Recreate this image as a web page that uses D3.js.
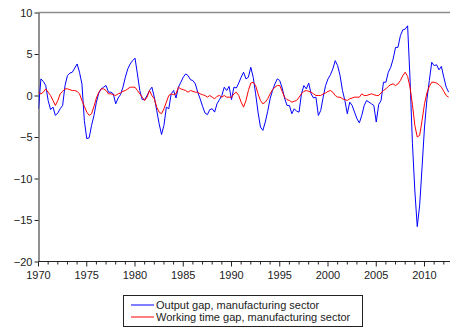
<!DOCTYPE html>
<html>
<head>
<meta charset="utf-8">
<script src="https://cdn.jsdelivr.net/npm/d3@7"></script>
<style>
  html, body { margin: 0; padding: 0; background: #fff; }
  svg { display: block; font-family: "Liberation Sans", Arial, sans-serif; }
</style>
</head>
<body>
<svg id="chart" width="450" height="329"></svg>
<script>
// Quarterly series, first observation 1970Q1
const startYear = 1970;
const periodsPerYear = 4;

const outputGap = [
  -1.6, 2.0, 1.7, 1.2,   -0.6, -1.7, -1.4, -2.4,   -2.1, -1.6, -1.2, 1.2,   2.4, 2.7, 2.8, 3.3,
  3.8, 2.8, 1.4, -3.0,   -5.2, -5.1, -3.6, -2.4,   -0.8, 0.3, 0.8, 1.0,     1.2, 0.4, 0.4, 0.2,
  -1.0, -0.3, 0.1, 1.0,  2.2, 3.2, 3.8, 4.2,       4.5, 2.6, 0.6, -0.5,     -0.5, 0.0, 0.6, 1.0,
  -0.2, -1.8, -3.4, -4.7, -3.6, -1.4, -1.6, 0.2,   0.6, -0.3, 1.0, 1.6,     2.2, 2.6, 2.4, 1.9,
  1.8, 1.4, 0.4, -0.4,   -1.3, -2.1, -2.3, -1.7,   -1.6, -2.0, -1.0, -0.5,  0.0, 1.0, 0.6, 1.1,
  -0.5, 1.0, 0.9, 1.5,   2.2, 2.8, 2.0, 2.2,       3.4, 2.2, 0.2, -2.0,     -3.8, -4.2, -3.2, -1.9,
  -0.4, 0.6, 1.4, 2.0,   1.8, 0.9, -0.3, -1.2,     -1.2, -2.2, -1.6, -1.9,  -2.0, 0.2, 1.2, 0.8,
  1.5, 0.2, -0.3, -0.2,  -2.4, -1.8, -0.2, 1.2,    2.0, 2.5, 3.2, 4.2,      3.6, 2.4, 0.6, -0.6,
  -2.2, -0.8, -1.2, -2.0, -2.8, -3.3, -2.4, -1.2,  -0.6, -0.8, -1.0, -1.2,  -3.2, -1.1, -0.6, 1.6,
  1.6, 2.8, 3.4, 4.4,    5.8, 5.8, 7.2, 7.9,       8.0, 8.4, 2.0, -5.8,     -11.5, -15.8, -13.2, -8.6,
  -3.8, -0.5, 1.8, 4.0,  3.6, 3.7, 3.1, 3.5,       2.2, 1.0, 0.4
];

const workingTimeGap = [
  0.4, 0.2, 0.4, 0.8,    0.4, 0.0, -0.6, -1.2,     -0.6, 0.2, 0.5, 0.8,     0.8, 0.7, 0.6, 0.6,
  0.5, 0.2, -0.6, -1.3,  -2.0, -2.4, -2.2, -1.3,   -0.3, 0.4, 0.8, 0.8,     0.6, 0.2, 0.2, 0.1,
  0.0, 0.2, 0.3, 0.5,    0.6, 0.8, 1.0, 1.0,       1.0, 0.6, 0.2, -0.2,     -0.6, -0.2, 0.6, 0.0,
  -0.4, -1.4, -2.0, -2.2, -1.6, -0.8, 0.0, 0.2,    0.1, 0.2, 1.0, 0.8,      0.7, 0.6, 0.4, 0.6,
  0.5, 0.4, 0.4, 0.2,    0.1, 0.0, -0.2, 0.0,      -0.2, -0.4, -0.1, 0.0,   -0.2, 0.0, -0.2, -0.2,
  -0.2, 0.2, 0.4, 0.0,   -0.8, -1.4, -0.6, 0.6,    1.5, 1.6, 1.2, 0.2,      -0.6, -1.0, -0.8, -0.4,
  0.2, 0.7, 1.0, 1.2,    1.2, 0.5, -0.2, -0.5,     -0.6, -0.8, -0.7, -0.6,  -0.2, 0.2, 0.5, 0.6,
  0.5, 0.4, 0.2, 0.0,    0.0, 0.0, 0.2, 0.3,       0.5, 0.6, 0.4, 0.0,      -0.2, -0.2, -0.4, -0.5,
  -0.6, -0.4, -0.3, -0.2, -0.2, -0.2, 0.2, 0.0,    0.0, 0.1, 0.2, 0.1,      0.0, 0.0, 0.3, 0.6,
  0.8, 1.1, 1.3, 1.4,    1.2, 1.4, 1.8, 2.4,       2.8, 2.3, 1.0, -1.1,     -3.6, -5.0, -4.8, -3.0,
  -1.0, 0.3, 1.1, 1.6,   1.6, 1.5, 1.3, 1.0,       0.5, 0.0, -0.2
];

const yTicks = [-20, -15, -10, -5, 0, 5, 10];
const xLabelYears = [1970, 1975, 1980, 1985, 1990, 1995, 2000, 2005, 2010];
const seriesNames = ["Output gap, manufacturing sector", "Working time gap, manufacturing sector"];
const seriesColors = ["#0000ff", "#ff0000"];

const svg = d3.select("#chart");
const plotLeft = 38.5, plotTop = 12.5, plotBottom = 261.5, plotRight = 450;

const x = d3.scaleLinear().domain([1970, 2010]).range([plotLeft, 424.5]);
const y = d3.scaleLinear().domain([-20, 10]).range([plotBottom, plotTop]);

const toPoints = arr => arr.map((v, i) => ({ t: startYear + i / periodsPerYear, v }));

// plot clip
svg.append("defs").append("clipPath").attr("id", "plot")
  .append("rect").attr("x", plotLeft).attr("y", plotTop)
  .attr("width", plotRight - plotLeft).attr("height", plotBottom - plotTop);

// top frame line
svg.append("line")
  .attr("x1", plotLeft).attr("x2", plotRight).attr("y1", plotTop).attr("y2", plotTop)
  .attr("stroke", "#8c8c8c").attr("stroke-width", 1.3);

// y axis
const yAxis = svg.append("g").attr("transform", `translate(${plotLeft},0)`)
  .call(d3.axisLeft(y).tickValues(yTicks).tickSize(4).tickPadding(2).tickSizeOuter(0));
yAxis.select(".domain").attr("stroke", "#222");
yAxis.selectAll(".tick line").attr("stroke", "#222");
yAxis.selectAll(".tick text").attr("fill", "#222").style("font-size", "11px")
  .style("font-family", "'Liberation Sans', Arial, sans-serif");

// x axis line
svg.append("line")
  .attr("x1", plotLeft).attr("x2", plotRight).attr("y1", plotBottom).attr("y2", plotBottom)
  .attr("stroke", "#222");

// yearly ticks, longer at labelled years
const years = d3.range(1970, 2013);
svg.append("g").selectAll("line").data(years).join("line")
  .attr("x1", d => x(d)).attr("x2", d => x(d))
  .attr("y1", plotBottom).attr("y2", d => plotBottom + (d % 5 === 0 ? 5 : 3))
  .attr("stroke", "#222");

svg.append("g").selectAll("text").data(xLabelYears).join("text")
  .attr("x", d => x(d)).attr("y", 279)
  .attr("text-anchor", "middle")
  .attr("fill", "#222")
  .style("font-size", "11px")
  .text(d => d);

// series lines
const line = d3.line().x(d => x(d.t)).y(d => y(d.v));
const plot = svg.append("g").attr("clip-path", "url(#plot)");
[outputGap, workingTimeGap].forEach((s, i) => {
  plot.append("path")
    .datum(toPoints(s))
    .attr("d", line)
    .attr("fill", "none")
    .attr("stroke", seriesColors[i])
    .attr("stroke-width", 1)
    .attr("stroke-linejoin", "round");
});

// legend
const legend = svg.append("g");
legend.append("rect")
  .attr("x", 123.5).attr("y", 295.5).attr("width", 239).attr("height", 31)
  .attr("fill", "#fff").attr("stroke", "#222");
seriesNames.forEach((name, i) => {
  const ly = 305 + i * 12;
  legend.append("line")
    .attr("x1", 131).attr("x2", 154).attr("y1", ly).attr("y2", ly)
    .attr("stroke", seriesColors[i]);
  legend.append("text")
    .attr("x", 156).attr("y", ly + 4)
    .attr("fill", "#222")
    .style("font-size", "11px")
    .text(name);
});
</script>
</body>
</html>
